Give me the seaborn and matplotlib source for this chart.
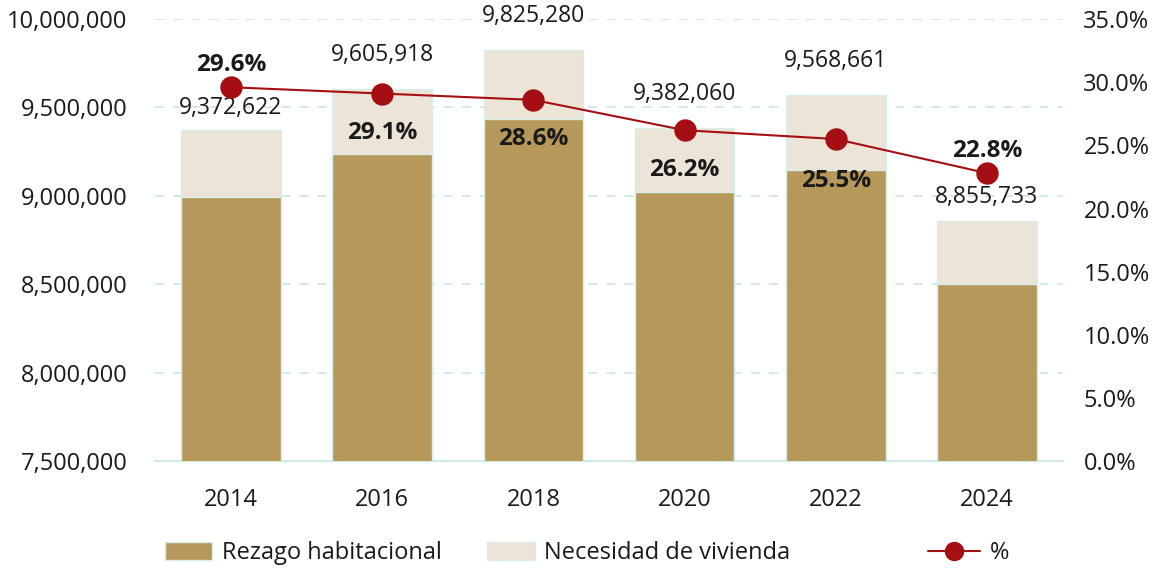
import matplotlib
matplotlib.use("Agg")
import matplotlib.pyplot as plt
import matplotlib.ticker as mticker
import seaborn as sns
import pandas as pd
from matplotlib.patches import Patch
from matplotlib.lines import Line2D

years = ["2014", "2016", "2018", "2020", "2022", "2024"]
rezago = [8993000, 9236000, 9434000, 9021000, 9146000, 8501000]
total = [9372622, 9605918, 9825280, 9382060, 9568661, 8855733]
pct = [29.6, 29.1, 28.6, 26.2, 25.5, 22.8]

DARK = "#b5985a"
LIGHT = "#ece4d6"
RED = "#a50e12"
GRID = "#cfe9e4"
TEXT = "#1a1a1a"

sns.set_theme(style="white")
plt.rcParams["font.family"] = ["Open Sans", "DejaVu Sans"]

df = pd.DataFrame({"year": years, "rezago": rezago, "total": total, "pct": pct})

fig = plt.figure(figsize=(11.6, 5.68), dpi=100)
ax = fig.add_axes([0.134, 0.188, 0.782, 0.7785])

sns.barplot(data=df, x="year", y="total", color=LIGHT, saturation=1, width=0.66,
            edgecolor="#d8eee9", linewidth=1, ax=ax, zorder=2)
sns.barplot(data=df, x="year", y="rezago", color=DARK, saturation=1, width=0.66,
            edgecolor="#d8eee9", linewidth=1, ax=ax, zorder=3)

ax.set_ylim(7500000, 10000000)
ax.set_xlim(-0.5, 5.5)
ax.yaxis.set_major_locator(mticker.MultipleLocator(500000))
ax.yaxis.set_major_formatter(mticker.FuncFormatter(lambda v, p: f"{v:,.0f}"))
ax.grid(axis="y", color=GRID, linestyle=(0, (5, 5)), linewidth=1.3, zorder=0)
ax.set_axisbelow(True)
ax.set_xlabel("")
ax.set_ylabel("")
for s in ["top", "right", "left"]:
    ax.spines[s].set_visible(False)
ax.spines["bottom"].set_color(GRID)
ax.spines["bottom"].set_linewidth(1.5)
ax.tick_params(axis="both", length=0, labelsize=17, colors=TEXT)
ax.tick_params(axis="x", pad=19)
ax.tick_params(axis="y", pad=20)

# total labels above bars
total_offsets = [22, 34, 34, 34, 34, 24]
for i, (v, off) in enumerate(zip(total, total_offsets)):
    ax.annotate(f"{v:,}", (i, v), xytext=(0, off), textcoords="offset pixels",
                ha="center", va="center", fontsize=16.5, color=TEXT, zorder=5)

ax2 = ax.twinx()
sns.pointplot(x=df["year"], y=df["pct"], color=RED, markers="o", markersize=15,
              linewidth=1.5, ax=ax2)
ax2.set_ylim(0, 35)
ax2.set_xlim(-0.5, 5.5)
ax2.yaxis.set_major_locator(mticker.MultipleLocator(5))
ax2.yaxis.set_major_formatter(mticker.FuncFormatter(lambda v, p: f"{v:.1f}%"))
ax2.set_ylabel("")
ax2.set_xlabel("")
for s in ["top", "right", "left", "bottom"]:
    ax2.spines[s].set_visible(False)
ax2.tick_params(axis="y", length=0, labelsize=17, colors=TEXT, pad=15)
ax2.grid(False)

pct_offsets = [22, -39, -39, -40, -42, 22]
for i, (v, off) in enumerate(zip(pct, pct_offsets)):
    ax2.annotate(f"{v:.1f}%", (i, v), xytext=(0, off), textcoords="offset pixels",
                 ha="center", va="center", fontsize=17.5, fontweight="bold",
                 color=TEXT, zorder=6)

# legend
leg_items = [
    (Patch(facecolor=DARK, edgecolor="#d8eee9"), "Rezago habitacional", 0.134, 2.0),
    (Patch(facecolor=LIGHT, edgecolor="#d8eee9"), "Necesidad de vivienda", 0.412, 2.0),
    (Line2D([], [], color=RED, marker="o", markersize=13, linewidth=1.5), "%", 0.792, 2.2),
]
for h, lab, x, hl in leg_items:
    fig.legend([h], [lab], loc="center left", bbox_to_anchor=(x, 0.026),
               frameon=False, fontsize=17, handlelength=hl, handleheight=0.8,
               handletextpad=0.4, borderaxespad=0, labelcolor=TEXT)

fig.savefig("out.png", dpi=100)
